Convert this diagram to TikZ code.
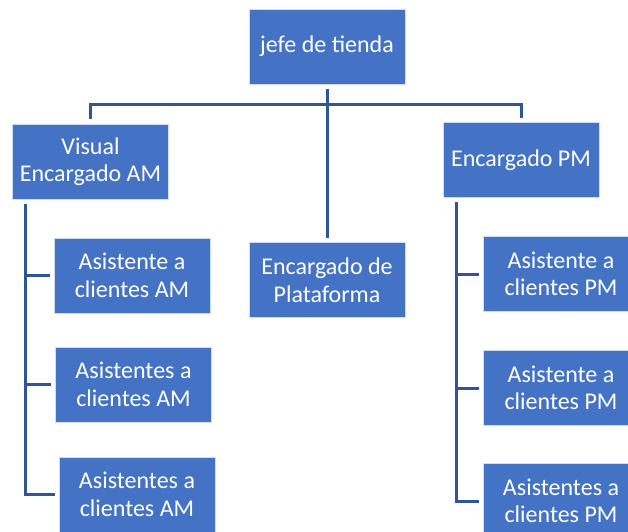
\documentclass[tikz,border=0pt]{standalone}
\usepackage{fontspec}
\setmainfont{Carlito}
\usetikzlibrary{positioning}
\definecolor{boxblue}{HTML}{4472C4}
\definecolor{lineblue}{HTML}{2F5597}

\begin{document}
\begin{tikzpicture}[x=1pt,y=-1pt,
	puesto/.style={draw=white!75!boxblue, line width=0.8pt, fill=boxblue, text=white,
		minimum width=156pt, minimum height=75pt, inner sep=0pt, align=center,
		font=\fontsize{24}{27.5}\selectfont},
	enlace/.style={draw=lineblue, line width=3pt}]

	\useasboundingbox (0,0) rectangle (628,531);
	\clip (0,0) rectangle (628,531);

	% primer nivel
	\node[puesto] (jefe) at (327,46.5) {jefe de tienda};
	\node[puesto] (visual) at (90.5,161.5) {Visual\\Encargado AM};
	\node[puesto] (pm) at (521,160) {Encargado PM};
	\node[puesto] (plat) at (327,280) {Encargado de\\Plataforma};

	% asistentes
	\node[puesto] (am1) at (132,275.5) {Asistente a\\clientes AM};
	\node[puesto] (am2) at (133.5,384.5) {Asistentes a\\clientes AM};
	\node[puesto] (am3) at (137,494.5) {Asistentes a\\clientes AM};
	\node[puesto] (pm1) at (561,274) {Asistente a\\clientes PM};
	\node[puesto] (pm2) at (561,388) {Asistente a\\clientes PM};
	\node[puesto] (pm3) at (561,501) {Asistentes a\\clientes PM};

	% conectores
	\coordinate (bar) at (327,104);
	\draw[enlace] ([yshift=-5pt]jefe.south) -- ([yshift=4pt]plat.north);
	\draw[enlace] ([yshift=5pt]visual.north) |- (bar) -| ([yshift=4pt]pm.north);

	\coordinate (lt) at ([xshift=13pt,yshift=-5pt]visual.south west);
	\coordinate (rt) at ([xshift=14pt,yshift=-4pt]pm.south west);
	\draw[enlace] (lt) |- ([xshift=-4pt]am3.west);
	\draw[enlace] (rt) |- ([xshift=-4pt]pm3.west);
	\foreach \n in {am1,am2}
		\draw[enlace] (lt |- \n.west) -- ([xshift=-4pt]\n.west);
	\foreach \n in {pm1,pm2}
		\draw[enlace] (rt |- \n.west) -- ([xshift=-4pt]\n.west);

\end{tikzpicture}
\end{document}
